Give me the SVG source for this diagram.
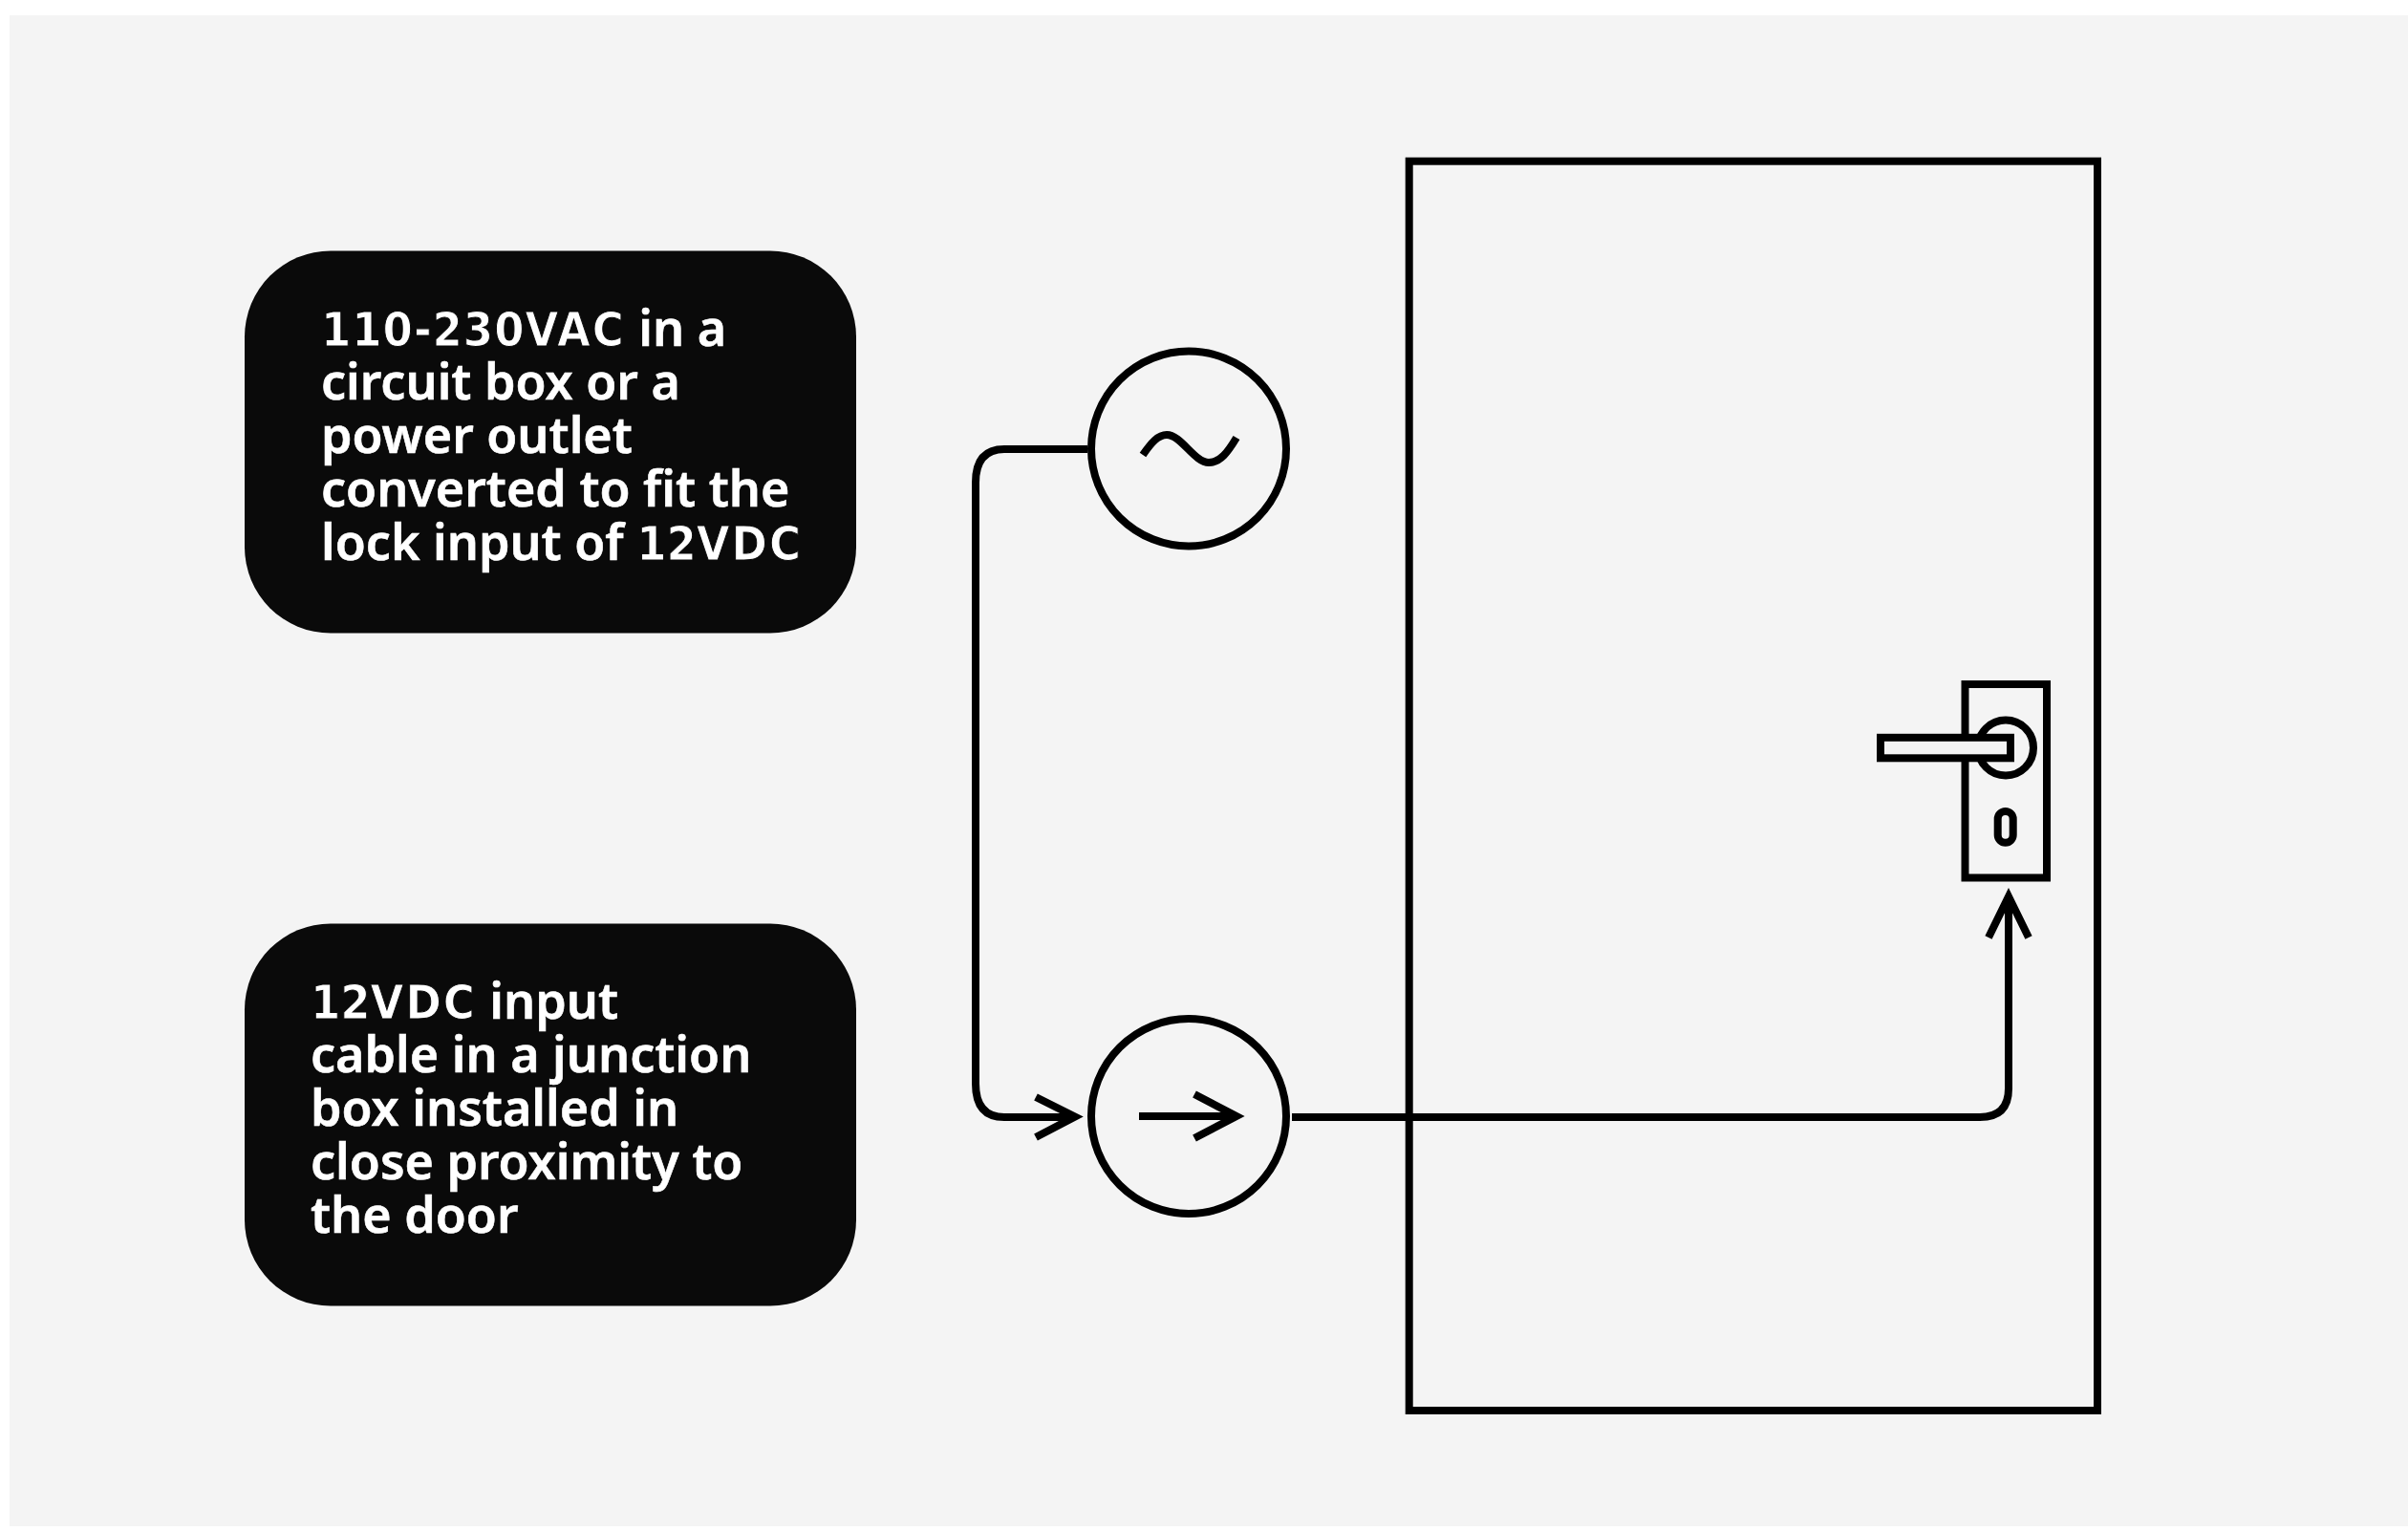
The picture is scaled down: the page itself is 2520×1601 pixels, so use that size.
<svg xmlns="http://www.w3.org/2000/svg" width="2520" height="1601" viewBox="0 0 2520 1601">
<style>
.ln{fill:none;stroke:#000;stroke-width:8;stroke-miterlimit:10}
.box{fill:#0a0a0a}
.t{font-family:"Noto Sans","Open Sans",sans-serif;font-weight:600;font-size:52px;fill:#fff;stroke:#fff;stroke-width:.6px}
.d{font-family:"DejaVu Sans Condensed","DejaVu Sans",sans-serif;font-stretch:condensed;font-weight:700;font-size:50px;stroke:#0a0a0a;stroke-width:1px}
.c{letter-spacing:2px}
.n{letter-spacing:1px}
</style>
<rect x="10" y="16" width="2510" height="1581" fill="#f4f4f4"/>
<g id="door"><rect class="ln" x="1474.7" y="168.7" width="720.3" height="1307.3"/></g>
<g id="connectors">
<path class="ln" d="M1138 470H1051Q1021 470 1021 505V1134Q1021 1169 1051 1169H1125"/>
<path class="ln" d="M1084 1148L1125 1168.5L1084 1190"/>
<path class="ln" d="M1352 1169H2072Q2102 1169 2102 1139V938"/>
<path class="ln" d="M2081 981L2102 938L2123 981"/>
</g>
<g id="note-ac"><rect class="box" x="256" y="262.5" width="640" height="400" rx="90"/>
<text class="t" x="336" y="362"><tspan class="d n">110-230</tspan><tspan class="d c">VAC</tspan> in a</text>
<text class="t" x="336" y="418">circuit box or a</text>
<text class="t" x="336" y="474">power outlet</text>
<text class="t" x="336" y="530">converted to fit the</text>
<text class="t" x="336" y="586">lock input of <tspan class="d">12</tspan><tspan class="d c">VDC</tspan></text></g>
<g id="note-dc"><rect class="box" x="256" y="966.5" width="640" height="400" rx="90"/>
<text class="t" x="325" y="1066">
<tspan class="d">12</tspan><tspan class="d c">VDC</tspan> input</text>
<text class="t" x="325" y="1122">cable in a junction</text>
<text class="t" x="325" y="1178">box installed in</text>
<text class="t" x="325" y="1234">close proximity to</text>
<text class="t" x="325" y="1290">the door</text></g>
<g id="ac-source"><circle class="ln" cx="1244" cy="469.5" r="102"/>
<path class="ln" d="M1196 476C1205 463 1212 455 1221 455C1236 455 1250 484 1265 484C1277 484 1285 473 1294 458"/></g>
<g id="junction"><circle class="ln" cx="1244" cy="1168" r="102"/>
<path class="ln" d="M1192 1168H1294"/><path class="ln" d="M1250 1145L1294 1168L1250 1191"/></g>
<g id="lock">
<rect class="ln" x="2056.5" y="716" width="85.5" height="202.5"/>
<circle class="ln" cx="2099" cy="782.5" r="29"/>
<rect class="ln" x="1968" y="771.8" width="136" height="21.5" style="fill:#f4f4f4"/>
<rect class="ln" x="2090.7" y="849" width="16" height="32.7" rx="8"/>
</g>
</svg>
